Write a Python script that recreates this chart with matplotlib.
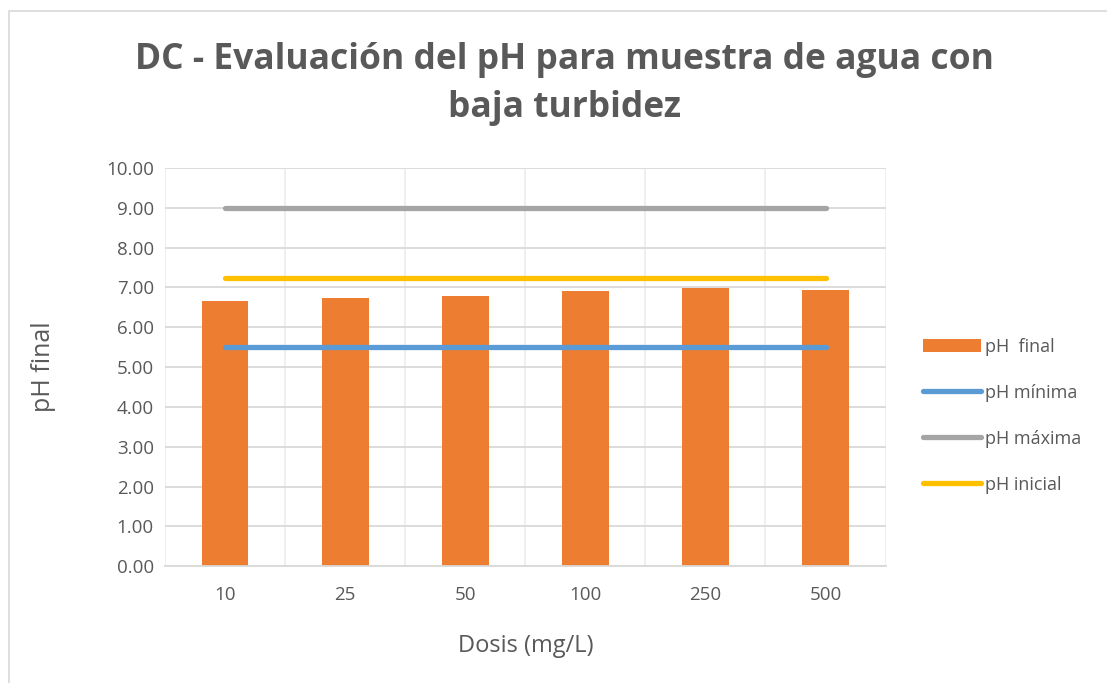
import numpy as np
import matplotlib.pyplot as plt
from matplotlib.patches import Rectangle

# Datos
dosis = ["10", "25", "50", "100", "250", "500"]
ph_final = [6.66, 6.73, 6.78, 6.92, 6.98, 6.93]
ph_minima = [5.5, 5.5, 5.5, 5.5, 5.5, 5.5]
ph_maxima = [9.0, 9.0, 9.0, 9.0, 9.0, 9.0]
ph_inicial = [7.25, 7.25, 7.25, 7.25, 7.25, 7.25]

plt.rcParams['font.family'] = ['Open Sans', 'DejaVu Sans']

fig = plt.figure(figsize=(11.07, 6.83), dpi=100)
fig.patches.append(Rectangle((0.008, -0.01), 1.2, 0.994, transform=fig.transFigure,
                             fill=False, edgecolor='#d9d9d9', linewidth=1.2))
ax = fig.add_axes([0.149, 0.171, 0.651, 0.583])

x = np.arange(len(dosis))
barras = ax.bar(x, ph_final, width=0.39, color='#ED7D31', label='pH  final', zorder=2)
l1, = ax.plot(x, ph_minima, color='#5B9BD5', lw=3.8, solid_capstyle='round', label='pH mínima', zorder=3)
l2, = ax.plot(x, ph_maxima, color='#A5A5A5', lw=3.8, solid_capstyle='round', label='pH máxima', zorder=3)
l3, = ax.plot(x, ph_inicial, color='#FFC000', lw=3.8, solid_capstyle='round', label='pH inicial', zorder=3)

ax.set_xlim(-0.5, len(dosis) - 0.5)
ax.set_ylim(0, 10)
ax.set_yticks(np.arange(0, 11, 1))
ax.set_yticklabels([f"{v:.2f}" for v in np.arange(0, 11, 1)])
ax.set_xticks(x)
ax.set_xticklabels(dosis)
ax.set_xticks(np.arange(-0.5, len(dosis), 0.5), minor=True)
ax.grid(axis='y', color='#d9d9d9', lw=1.3, zorder=0)
ax.grid(axis='x', which='minor', color='#eeeeee', lw=1.3, zorder=0)
ax.tick_params(axis='both', which='both', length=0, labelsize=13.5, colors='#595959')
ax.tick_params(axis='x', pad=14)
ax.tick_params(axis='y', pad=8)
for s in ['top', 'right', 'left']:
    ax.spines[s].set_visible(False)
ax.spines['bottom'].set_color('#d9d9d9')
ax.spines['bottom'].set_linewidth(1.3)

ax.set_xlabel("Dosis (mg/L)", fontsize=17, color='#595959', labelpad=22)
ax.set_ylabel("pH final", fontsize=18, color='#595959', labelpad=36)
fig.text(0.51, 0.912, "DC - Evaluación del pH para muestra de agua con", ha='center', va='center',
         fontsize=25.5, fontweight='bold', color='#595959')
fig.text(0.51, 0.842, "baja turbidez", ha='center', va='center',
         fontsize=25.5, fontweight='bold', color='#595959')

ax.legend([barras, l1, l2, l3], ['pH  final', 'pH mínima', 'pH máxima', 'pH inicial'],
          loc='center left', bbox_to_anchor=(1.03, 0.378), frameon=False, fontsize=13,
          labelcolor='#595959', handlelength=3.2, labelspacing=1.55, handletextpad=0.2)

plt.savefig("out.png", dpi=100)
